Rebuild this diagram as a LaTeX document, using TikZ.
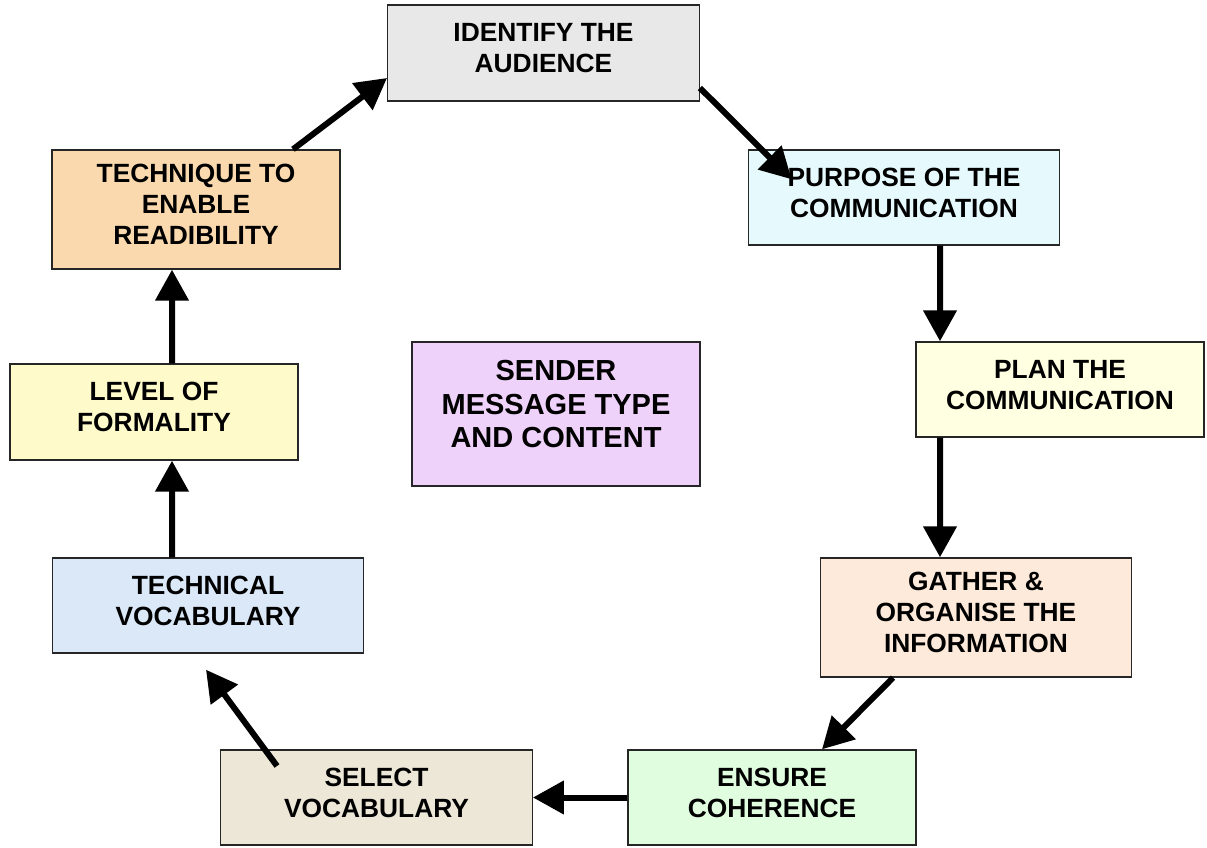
\documentclass[tikz,border=0pt]{standalone}
\usepackage{fontspec}
\setmainfont{Liberation Sans}
\usetikzlibrary{arrows.meta}
\definecolor{cgray}{HTML}{E8E8E8}
\definecolor{ccyan}{HTML}{E6FAFD}
\definecolor{cyel}{HTML}{FFFFE1}
\definecolor{cpeach}{HTML}{FDEADA}
\definecolor{cgreen}{HTML}{E0FDE0}
\definecolor{cbeige}{HTML}{EDE7D8}
\definecolor{cblue}{HTML}{DAE8F8}
\definecolor{clemon}{HTML}{FFFACA}
\definecolor{corange}{HTML}{FAD9AE}
\definecolor{clilac}{HTML}{EED2FA}
\begin{document}
\begin{tikzpicture}
  [every node/.style={rectangle,draw=black!85,line width=0.8pt,align=center,
     font=\fontsize{15}{17.6}\selectfont\bfseries,inner sep=0pt,text depth=0.2cm},
   wide/.style={minimum width=6.23cm},
   narrow/.style={minimum width=5.76cm}]
  \useasboundingbox (0,0) rectangle (24.14,16.94);
  \node[wide,minimum height=1.92cm,fill=cgray] (identify) at (10.87,15.88) {IDENTIFY THE\\AUDIENCE};
  \node[wide,minimum height=1.9cm,fill=ccyan] (purpose) at (18.08,12.99) {PURPOSE OF THE\\COMMUNICATION};
  \node[narrow,minimum height=1.9cm,fill=cyel] (plan) at (21.2,9.15) {PLAN THE\\COMMUNICATION};
  \node[wide,minimum height=2.38cm,fill=cpeach] (gather) at (19.52,4.59) {GATHER \&\\ORGANISE THE\\INFORMATION};
  \node[narrow,minimum height=1.9cm,fill=cgreen] (ensure) at (15.44,0.99) {ENSURE\\COHERENCE};
  \node[wide,minimum height=1.9cm,fill=cbeige] (select) at (7.53,0.99) {SELECT\\VOCABULARY};
  \node[wide,minimum height=1.9cm,fill=cblue] (technical) at (4.16,4.83) {TECHNICAL\\VOCABULARY};
  \node[narrow,minimum height=1.92cm,fill=clemon] (level) at (3.08,8.70) {LEVEL OF\\FORMALITY};
  \node[narrow,minimum height=2.38cm,fill=corange] (technique) at (3.92,12.75) {TECHNIQUE TO\\ENABLE\\READIBILITY};
  \node[narrow,minimum height=2.88cm,fill=clilac,text depth=0.4cm,
        font=\fontsize{16.5}{19}\selectfont\bfseries] (sender) at (11.12,8.66) {SENDER\\MESSAGE TYPE\\AND CONTENT};

 \path[draw, line width=0.12cm, every edge/.append style={-{Triangle[length=0.62cm,width=0.65cm]}}]
        ([xshift=1.94cm]technique.north) edge ([yshift=-0.5cm]identify.west)
        ([yshift=-0.7cm]identify.east) edge ([xshift=0.88cm,yshift=-0.6cm]purpose.north west)
        ([xshift=0.72cm]purpose.south) edge ([xshift=-2.4cm]plan.north)
        ([xshift=-2.4cm]plan.south) edge ([xshift=-0.72cm]gather.north)
        ([xshift=-1.66cm]gather.south) edge ([xshift=1cm]ensure.north)
        (ensure.west) edge (select.east)
        ([xshift=-1.99cm,yshift=0.63cm]select.center) edge ([xshift=-0.04cm,yshift=-0.32cm]technical.south)
        ([xshift=-0.72cm]technical.north) edge ([xshift=0.36cm]level.south)
        ([xshift=0.36cm]level.north) edge ([xshift=-0.48cm]technique.south);

\end{tikzpicture}
\end{document}
